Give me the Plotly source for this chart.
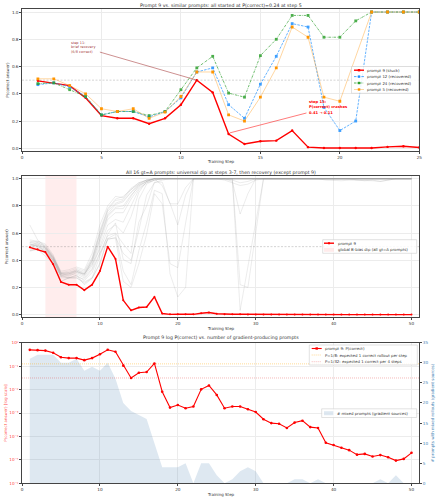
import plotly.graph_objects as go

FONT = "DejaVu Sans"
W, H = 437, 500

# ---------------- data ----------------
steps_short = list(range(1, 26))
steps = list(range(1, 51))

# prompt 9 P(correct) per training step (1..50)
p9 = [0.495, 0.48, 0.46, 0.37, 0.24, 0.22, 0.22, 0.18, 0.22, 0.32,
      0.50, 0.41, 0.105, 0.031, 0.052, 0.056, 0.13, 0.0081, 0.0017, 0.0022,
      0.0016, 0.0019, 0.0102, 0.015, 0.0059, 0.0016, 0.0019, 0.0019, 0.00144, 0.0011,
      0.00054, 0.00037, 0.00035, 0.00023, 0.00039, 0.00047, 0.00025, 0.00023, 5.4e-5, 4.3e-5,
      3.3e-5, 2.6e-5, 1.67e-5, 1.8e-5, 1.4e-5, 1.6e-5, 1.3e-5, 9.3e-6, 1.1e-5, 2.0e-5]

# similar prompts, steps 1..25
p12 = [0.467, 0.48, 0.45, 0.38, 0.245, 0.27, 0.27, 0.23, 0.27, 0.37,
       0.56, 0.59, 0.32, 0.22, 0.47, 0.675, 0.915, 0.89, 0.30, 0.13,
       0.20, 1.0, 1.0, 1.0, 1.0]
p24 = [0.475, 0.48, 0.43, 0.38, 0.245, 0.27, 0.27, 0.24, 0.27, 0.43,
       0.59, 0.675, 0.405, 0.375, 0.68, 0.80, 0.975, 0.975, 0.815, 0.815,
       0.935, 1.0, 1.0, 1.0, 1.0]
p5 = [0.51, 0.51, 0.46, 0.40, 0.29, 0.27, 0.29, 0.22, 0.265, 0.38,
      0.56, 0.56, 0.245, 0.20, 0.375, 0.59, 0.89, 0.815, 0.375, 0.345,
      None, 1.0, 1.0, 1.0, 1.0]
# steps 26..50
p12_late = [1.0, 1.0, 1.0, 1.0, 1.0, 1.0, 1.0, 1.0, 1.0, 1.0,
            1.0, 1.0, 1.0, 1.0, 1.0, 1.0, 1.0, 1.0, 1.0, 1.0,
            1.0, 1.0, 1.0, 1.0, 1.0]
p24_late = [1.0, 1.0, 1.0, 1.0, 1.0, 1.0, 1.0, 1.0, 1.0, 1.0,
            1.0, 1.0, 1.0, 1.0, 1.0, 1.0, 1.0, 1.0, 1.0, 1.0,
            1.0, 1.0, 1.0, 1.0, 1.0]
p5_late = [1.0, 1.0, 1.0, 1.0, 1.0, 1.0, 1.0, 1.0, 1.0, 1.0,
           1.0, 1.0, 1.0, 1.0, 1.0, 1.0, 1.0, 1.0, 1.0, 1.0,
           1.0, 1.0, 1.0, 1.0, 1.0]

# other gt=A prompts (steps 1..50)
g1 = [0.66, 0.55, 0.50, 0.42, 0.32, 0.33, 0.35, 0.33, 0.45, 0.66,
      0.80, 0.87, 0.86, 0.93, 0.97, 0.99, 1.0, 1.0, 1.0, 1.0,
      1.0, 1.0, 1.0, 1.0, 1.0, 1.0, 1.0, 1.0, 1.0, 1.0,
      1.0, 1.0, 1.0, 1.0, 1.0, 1.0, 1.0, 1.0, 1.0, 1.0,
      1.0, 1.0, 1.0, 1.0, 1.0, 1.0, 1.0, 1.0, 1.0, 1.0]
g2 = [0.55, 0.54, 0.52, 0.44, 0.31, 0.32, 0.34, 0.32, 0.42, 0.62,
      0.78, 0.85, 0.87, 0.92, 0.96, 0.99, 1.0, 1.0, 1.0, 1.0,
      1.0, 1.0, 1.0, 1.0, 1.0, 1.0, 1.0, 1.0, 1.0, 1.0,
      1.0, 1.0, 1.0, 1.0, 1.0, 1.0, 1.0, 1.0, 1.0, 1.0,
      1.0, 1.0, 1.0, 1.0, 1.0, 1.0, 1.0, 1.0, 1.0, 1.0]
g3 = [0.54, 0.53, 0.50, 0.43, 0.30, 0.30, 0.33, 0.30, 0.40, 0.60,
      0.76, 0.82, 0.84, 0.90, 0.95, 0.98, 1.0, 1.0, 1.0, 1.0,
      1.0, 1.0, 1.0, 1.0, 1.0, 1.0, 0.99, 0.97, 0.98, 1.0,
      1.0, 1.0, 1.0, 1.0, 1.0, 1.0, 1.0, 1.0, 1.0, 1.0,
      1.0, 1.0, 1.0, 1.0, 1.0, 1.0, 1.0, 1.0, 1.0, 1.0]
g4 = [0.53, 0.52, 0.49, 0.42, 0.30, 0.29, 0.32, 0.29, 0.38, 0.56,
      0.73, 0.79, 0.80, 0.88, 0.94, 0.98, 1.0, 1.0, 1.0, 1.0,
      1.0, 1.0, 1.0, 1.0, 1.0, 1.0, 1.0, 1.0, 1.0, 1.0,
      1.0, 1.0, 1.0, 1.0, 1.0, 1.0, 1.0, 1.0, 1.0, 1.0,
      1.0, 1.0, 0.99, 0.985, 0.99, 0.98, 0.99, 1.0, 1.0, 1.0]
g5 = [0.52, 0.51, 0.48, 0.41, 0.29, 0.28, 0.31, 0.28, 0.36, 0.53,
      0.70, 0.75, 0.75, 0.85, 0.93, 0.97, 0.99, 1.0, 1.0, 1.0,
      1.0, 1.0, 1.0, 1.0, 1.0, 1.0, 1.0, 1.0, 1.0, 1.0,
      1.0, 1.0, 1.0, 1.0, 1.0, 1.0, 1.0, 1.0, 1.0, 1.0,
      1.0, 1.0, 1.0, 1.0, 1.0, 1.0, 1.0, 1.0, 1.0, 1.0]
g6 = [0.52, 0.50, 0.47, 0.40, 0.28, 0.29, 0.30, 0.27, 0.34, 0.50,
      0.66, 0.70, 0.68, 0.80, 0.92, 0.97, 0.99, 1.0, 1.0, 1.0,
      1.0, 1.0, 1.0, 1.0, 1.0, 1.0, 1.0, 1.0, 1.0, 1.0,
      1.0, 1.0, 1.0, 1.0, 1.0, 1.0, 1.0, 1.0, 1.0, 1.0,
      1.0, 1.0, 1.0, 1.0, 1.0, 1.0, 1.0, 1.0, 1.0, 1.0]
g7 = [0.50, 0.52, 0.49, 0.41, 0.29, 0.30, 0.31, 0.30, 0.37, 0.48,
      0.62, 0.66, 0.60, 0.72, 0.90, 0.98, 1.0, 0.95, 0.82, 0.66,
      0.88, 1.0, 1.0, 1.0, 1.0, 1.0, 1.0, 1.0, 1.0, 1.0,
      1.0, 1.0, 1.0, 1.0, 1.0, 1.0, 1.0, 1.0, 1.0, 1.0,
      1.0, 1.0, 1.0, 1.0, 1.0, 1.0, 1.0, 1.0, 1.0, 1.0]
g8 = [0.49, 0.50, 0.48, 0.40, 0.28, 0.27, 0.28, 0.26, 0.33, 0.46,
      0.58, 0.60, 0.52, 0.45, 0.85, 0.96, 0.99, 1.0, 1.0, 1.0,
      1.0, 1.0, 1.0, 1.0, 1.0, 1.0, 1.0, 0.03, None, None,
      1.0, 1.0, 1.0, 1.0, 1.0, 1.0, 1.0, 1.0, 1.0, 1.0,
      1.0, 1.0, 1.0, 1.0, 1.0, 1.0, 1.0, 1.0, 1.0, 1.0]
g9 = [0.51, 0.53, 0.50, 0.42, 0.30, 0.31, 0.32, 0.29, 0.40, 0.58,
      0.74, 0.81, 0.83, 0.90, 0.96, 0.99, 1.0, 1.0, 1.0, 1.0,
      1.0, 1.0, 1.0, 1.0, 1.0, 1.0, 1.0, 0.22, 0.20, None,
      1.0, 1.0, 1.0, 1.0, 1.0, 1.0, 1.0, 1.0, 1.0, 1.0,
      1.0, 1.0, 1.0, 1.0, 1.0, 1.0, 1.0, 1.0, 1.0, 1.0]
g10 = [0.53, 0.54, 0.51, 0.43, 0.31, 0.31, 0.33, 0.31, 0.41, 0.60,
       0.77, 0.84, 0.85, 0.92, 0.97, 0.99, 1.0, 1.0, 1.0, 1.0,
       1.0, 1.0, 1.0, 1.0, 1.0, 1.0, 0.98, 0.74, 0.89, 1.0,
       1.0, 1.0, 1.0, 1.0, 1.0, 1.0, 1.0, 1.0, 1.0, 1.0,
       1.0, 1.0, 1.0, 1.0, 1.0, 1.0, 1.0, 1.0, 1.0, 1.0]
g11 = [0.50, 0.51, 0.49, 0.41, 0.30, 0.30, 0.32, 0.30, 0.39, 0.55,
       0.72, 0.78, 0.78, 0.87, 0.95, 0.98, 1.0, 1.0, 1.0, 1.0,
       1.0, 1.0, 1.0, 1.0, 1.0, 0.99, 0.97, 0.95, 0.96, 0.99,
       1.0, 1.0, 1.0, 1.0, 1.0, 1.0, 1.0, 1.0, 1.0, 1.0,
       1.0, 1.0, 1.0, 1.0, 1.0, 1.0, 1.0, 1.0, 1.0, 1.0]
g12 = [0.47, 0.49, 0.47, 0.39, 0.27, 0.27, 0.29, 0.25, 0.31, 0.45,
       0.55, 0.57, 0.45, 0.40, 0.62, 0.88, 0.97, 0.99, 1.0, 1.0,
       1.0, 1.0, 1.0, 1.0, 1.0, 1.0, 1.0, 1.0, 1.0, 1.0,
       1.0, 1.0, 1.0, 1.0, 1.0, 1.0, 1.0, 1.0, 0.99, 0.985,
       0.985, 0.99, 0.99, 0.99, 0.985, 0.98, 0.99, 1.0, 1.0, 1.0]

# number of prompts with mixed rollouts (gradient sources), steps 1..50
mixed = [31, 32, 32, 32, 30, 30, 31, 28, 29, 28,
         30, 26, 20, 18, 17, 16, 10, 4, 4, 4,
         5, 0, 5, 5, 2, 0, 1, 3, 4, 3,
         0, 0, 0, 0, 1, 1, 0, 1, 0, 0,
         0, 0, 0, 0, 0, 1, 0, 2, 0, 0]

yticks_lin = [0.0, 0.2, 0.4, 0.6, 0.8, 1.0]
yticks_lin_text = ["0.0", "0.2", "0.4", "0.6", "0.8", "1.0"]
log_ticks = [1e-6, 1e-5, 1e-4, 1e-3, 1e-2, 1e-1, 1]
log_ticks_text = ["10⁻⁶", "10⁻⁵", "10⁻⁴", "10⁻³", "10⁻²", "10⁻¹", "10⁰"]
count_ticks = [0, 5, 10, 15, 20, 25, 30, 35]

# ---------------- helpers ----------------
def fx(px):
    return px / W

def fy(py):
    return 1 - py / H

XD = [fx(22), fx(419.3)]
D1 = [fy(151), fy(9.3)]
D2 = [fy(317.3), fy(176)]
D3 = [fy(483.3), fy(342.7)]

RED = "#ff0000"
BLUE = "#1E90FF"
GREEN = "#2ca02c"
ORANGE = "#ff9500"
STEEL = "#4682b4"
TXT = "#333333"

shapes = []
annos = []

fig = go.Figure()

# ---------------- panel 1 ----------------
fig.add_trace(go.Scatter(x=[0, 25], y=[0.5, 0.5], mode="lines", xaxis="x", yaxis="y",
                         line=dict(color="rgba(128,128,128,0.5)", width=0.7, dash="2px,1.5px"),
                         hoverinfo="skip", showlegend=False))
fig.add_trace(go.Scatter(x=steps_short, y=p9[:25], mode="lines+markers", xaxis="x", yaxis="y",
                         line=dict(color=RED, width=1.4), marker=dict(size=2.4, color=RED),
                         name="prompt 9 (stuck)", showlegend=False))
fig.add_trace(go.Scatter(x=steps_short, y=p12, mode="lines+markers", xaxis="x", yaxis="y",
                         line=dict(color=BLUE, width=0.8, dash="2.5px,1.2px"),
                         marker=dict(size=2.8, color=BLUE, symbol="square"),
                         name="prompt 12 (recovered)", showlegend=False, opacity=0.85))
fig.add_trace(go.Scatter(x=steps_short, y=p24, mode="lines+markers", xaxis="x", yaxis="y",
                         line=dict(color=GREEN, width=0.8, dash="2.5px,1px,0.6px,1px"),
                         marker=dict(size=2.8, color=GREEN, symbol="square"),
                         name="prompt 24 (recovered)", showlegend=False, opacity=0.85))
fig.add_trace(go.Scatter(x=steps_short, y=p5, mode="lines+markers", xaxis="x", yaxis="y",
                         connectgaps=True,
                         line=dict(color="rgba(255,160,40,0.55)", width=0.8),
                         marker=dict(size=2.8, color=ORANGE, symbol="square"),
                         name="prompt 5 (recovered)", showlegend=False))

# ---------------- panel 2 ----------------
fig.add_trace(go.Scatter(x=[0, 51], y=[0.5, 0.5], mode="lines", xaxis="x2", yaxis="y2",
                         line=dict(color="rgba(128,128,128,0.5)", width=0.7, dash="2px,1.5px"),
                         hoverinfo="skip", showlegend=False))
gray_lines = [p12 + p12_late, p24 + p24_late, p5 + p5_late,
              g1, g2, g3, g4, g5, g6, g7, g8, g9, g10, g11, g12]
for gl in gray_lines:
    fig.add_trace(go.Scatter(x=steps, y=gl, mode="lines", xaxis="x2", yaxis="y2",
                             connectgaps=True,
                             line=dict(color="rgba(150,150,150,0.3)", width=0.6),
                             hoverinfo="skip", showlegend=False))
fig.add_trace(go.Scatter(x=steps, y=p9, mode="lines+markers", xaxis="x2", yaxis="y2",
                         line=dict(color=RED, width=1.4), marker=dict(size=2.0, color=RED),
                         name="prompt 9", showlegend=False))
shapes.append(dict(type="rect", xref="x2", yref="y2 domain", x0=3, x1=7, y0=0, y1=1,
                   fillcolor="rgba(255,0,0,0.07)", line=dict(width=0), layer="below"))

# ---------------- panel 3 ----------------
fig.add_trace(go.Scatter(x=steps, y=mixed, mode="lines", xaxis="x3", yaxis="y3",
                         fill="tozeroy", fillcolor="rgba(70,130,180,0.18)",
                         line=dict(width=0, color="rgba(70,130,180,0)"),
                         name="# mixed prompts (gradient sources)", showlegend=False))
fig.add_trace(go.Scatter(x=[0, 51], y=[0.125, 0.125], mode="lines", xaxis="x3", yaxis="y4",
                         line=dict(color="rgba(255,165,0,0.6)", width=0.7, dash="1px,1px"),
                         name="P=1/8", showlegend=False, hoverinfo="skip"))
fig.add_trace(go.Scatter(x=[0, 51], y=[1 / 32, 1 / 32], mode="lines", xaxis="x3", yaxis="y4",
                         line=dict(color="rgba(230,60,60,0.5)", width=0.7, dash="1px,1px"),
                         name="P=1/32", showlegend=False, hoverinfo="skip"))
fig.add_trace(go.Scatter(x=steps, y=p9, mode="lines+markers", xaxis="x3", yaxis="y4",
                         line=dict(color=RED, width=1.1), marker=dict(size=2.6, color=RED),
                         name="prompt 9: P(correct)", showlegend=False))

# ---------------- text ----------------
def text(px, py, s, size=4.2, color=TXT, xanchor="center", angle=0, weight="normal"):
    annos.append(dict(xref="paper", yref="paper", x=fx(px), y=fy(py), text=s, showarrow=False,
                      xanchor=xanchor, yanchor="middle", textangle=angle,
                      font=dict(family=FONT, size=size, color=color, weight=weight),
                      borderpad=0))

text(220.6, 5.3, "Prompt 9 vs. similar prompts: all started at P(correct)=0.24 at step 5", size=4.7)
text(220.6, 172, "All 16 gt=A prompts: universal dip at steps 3-7, then recovery (except prompt 9)", size=4.7)
text(220.6, 337.3, "Prompt 9 log P(correct) vs. number of gradient-producing prompts", size=4.7)
text(220.6, 161.7, "Training Step", size=4.0)
text(220.6, 328.3, "Training Step", size=4.0)
text(220.6, 494, "Training Step", size=4.0)
text(6.7, 80, "P(correct answer)", size=4.0, angle=-90)
text(6.7, 246.7, "P(correct answer)", size=4.0, angle=-90)
text(4.7, 413, "P(correct answer) [log scale]", size=4.0, angle=-90, color="rgba(255,0,0,0.75)")
text(432.3, 413, "# prompts with mixed rollouts (gradient sources)", size=4.0, angle=-90,
     color=STEEL)

# annotation texts in panel 1 (one line each)
DR = "rgba(139,0,0,0.85)"
text(69.8, 42.8, "step 11:", size=3.5, color=DR, xanchor="left")
text(69.8, 47.4, "brief recovery", size=3.5, color=DR, xanchor="left")
text(69.8, 52.0, "(6/8 correct)", size=3.5, color=DR, xanchor="left")
text(308.3, 101.8, "step 13:", size=3.7, color=RED, xanchor="left", weight="bold")
text(308.3, 107.2, "P(correct) crashes", size=3.7, color=RED, xanchor="left", weight="bold")
text(308.3, 112.6, "0.41 → 0.11", size=3.7, color=RED, xanchor="left", weight="bold")

# connector lines (annotation arrows) in data coordinates of panel 1
shapes.append(dict(type="line", xref="x", yref="y", x0=4.9, y0=0.706, x1=11, y1=0.50,
                   line=dict(color="rgba(139,0,0,0.55)", width=0.8), layer="above"))
shapes.append(dict(type="line", xref="x", yref="y", x0=17.9, y0=0.259, x1=13.08, y1=0.113,
                   line=dict(color="rgba(255,0,0,0.65)", width=0.8), layer="above"))

# ---------------- manual legends ----------------
def legend_box(x0, y0, x1, y1):
    shapes.append(dict(type="rect", xref="paper", yref="paper", x0=fx(x0), x1=fx(x1),
                       y0=fy(y1), y1=fy(y0), fillcolor="rgba(255,255,255,0.85)",
                       line=dict(color="#cfcfcf", width=0.6), layer="above"))

def legend_line(x0, x1, py, color, width, dash="solid", mcolor=None, msize=2.4):
    shapes.append(dict(type="line", xref="paper", yref="paper", x0=fx(x0), x1=fx(x1),
                       y0=fy(py), y1=fy(py), line=dict(color=color, width=width, dash=dash),
                       layer="above"))
    if mcolor:
        cx = (x0 + x1) / 2
        r = msize / 2
        shapes.append(dict(type="rect", xref="paper", yref="paper", x0=fx(cx - r), x1=fx(cx + r),
                           y0=fy(py + r), y1=fy(py - r), fillcolor=mcolor,
                           line=dict(width=0), layer="above"))

def legend_patch(x0, x1, py, color, h=4):
    shapes.append(dict(type="rect", xref="paper", yref="paper", x0=fx(x0), x1=fx(x1),
                       y0=fy(py + h / 2), y1=fy(py - h / 2), fillcolor=color,
                       line=dict(width=0), layer="above"))

LEG = 3.9
# panel 1 legend
legend_box(351.5, 66.5, 418.5, 93.3)
rows = [70.2, 76.6, 83.0, 89.5]
legend_line(354, 364, rows[0], RED, 1.4, "solid", RED)
legend_line(354, 364, rows[1], BLUE, 0.8, "2.5px,1.2px", BLUE)
legend_line(354, 364, rows[2], GREEN, 0.8, "2.5px,1px,0.6px,1px", GREEN)
legend_line(354, 364, rows[3], "rgba(255,160,40,0.55)", 0.8, "solid", ORANGE)
for r, s in zip(rows, ["prompt 9 (stuck)", "prompt 12 (recovered)",
                       "prompt 24 (recovered)", "prompt 5 (recovered)"]):
    text(366.3, r, s, size=LEG, xanchor="left")

# panel 2 legend
legend_box(322.7, 239.7, 416.7, 253.3)
legend_line(324, 334, 243.2, RED, 1.4, "solid", RED, msize=2.0)
legend_patch(324, 334, 249.8, "rgba(255,0,0,0.08)")
text(337, 243.2, "prompt 9", size=LEG, xanchor="left")
text(337, 249.8, "global B-bias dip (all gt=A prompts)", size=LEG, xanchor="left")

# panel 3 legends
legend_box(309.3, 345, 417.3, 365)
legend_line(311.7, 321.7, 348.5, RED, 1.1, "solid", RED, msize=2.4)
legend_line(311.7, 321.7, 355.0, "rgba(255,165,0,0.6)", 0.7, "1px,1px")
legend_line(311.7, 321.7, 361.7, "rgba(230,60,60,0.5)", 0.7, "1px,1px")
text(323.5, 348.5, "prompt 9: P(correct)", size=LEG, xanchor="left")
text(323.5, 355.0, "P=1/8: expected 1 correct rollout per step", size=LEG, xanchor="left")
text(323.5, 361.7, "P=1/32: expected 1 correct per 4 steps", size=LEG, xanchor="left")

legend_box(321.7, 408.8, 416.7, 417.5)
legend_patch(324, 333.3, 413.2, "rgba(70,130,180,0.18)")
text(336, 413.2, "# mixed prompts (gradient sources)", size=LEG, xanchor="left")

# ---------------- axes ----------------
def ax_style(**kw):
    base = dict(showline=True, mirror=True, linecolor="#444444", linewidth=0.6,
                ticks="outside", ticklen=1.8, tickwidth=0.5, tickcolor="#444444",
                showgrid=True, gridcolor="#ececec", gridwidth=0.5, zeroline=False,
                tickfont=dict(family=FONT, size=4.2, color=TXT), automargin=False)
    base.update(kw)
    return base

fig.update_layout(
    width=W, height=H, margin=dict(l=0, r=0, t=0, b=0),
    paper_bgcolor="white", plot_bgcolor="white",
    font=dict(family=FONT, size=4.2, color=TXT),
    showlegend=False, hovermode=False,
    xaxis=ax_style(domain=XD, anchor="y", range=[0, 25], tickvals=[0, 5, 10, 15, 20, 25]),
    yaxis=ax_style(domain=D1, anchor="x", range=[-0.02, 1.02], tickvals=yticks_lin,
                   ticktext=yticks_lin_text),
    xaxis2=ax_style(domain=XD, anchor="y2", range=[0, 51], tickvals=[0, 10, 20, 30, 40, 50]),
    yaxis2=ax_style(domain=D2, anchor="x2", range=[-0.02, 1.02], tickvals=yticks_lin,
                    ticktext=yticks_lin_text),
    xaxis3=ax_style(domain=XD, anchor="y3", range=[0, 51], tickvals=[0, 10, 20, 30, 40, 50]),
    yaxis3=ax_style(domain=D3, anchor="x3", side="right", range=[0, 35], tickvals=count_ticks,
                    showgrid=False, mirror=False,
                    tickfont=dict(family=FONT, size=4.2, color=STEEL)),
    yaxis4=ax_style(overlaying="y3", anchor="x3", side="left", type="log", range=[-6, 0],
                    tickvals=log_ticks, ticktext=log_ticks_text, mirror=False,
                    tickfont=dict(family=FONT, size=4.2, color="rgba(255,0,0,0.8)")),
    shapes=shapes,
    annotations=annos,
)

fig.write_html("out.html")
